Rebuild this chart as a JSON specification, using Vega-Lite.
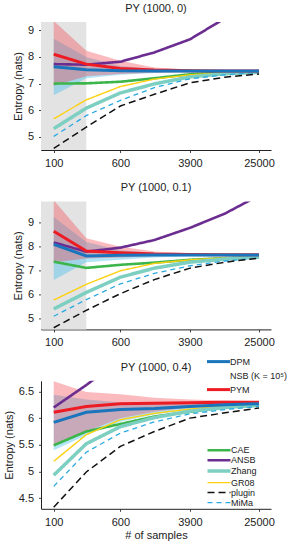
{
"$schema": "https://vega.github.io/schema/vega-lite/v6.json",
"padding": {"left": 3, "top": 3, "right": 0, "bottom": 0},
"spacing": 51.4,
"bounds": "flush",
"background": "white",
"datasets": {
"shade": [{"a": 71, "b": 240}],
"lines": [
{"p":1,"m":"PYM","n":100,"v":8.1},{"p":1,"m":"PYM","n":240,"v":7.73},{"p":1,"m":"PYM","n":600,"v":7.57},{"p":1,"m":"PYM","n":1500,"v":7.51},{"p":1,"m":"PYM","n":3900,"v":7.48},{"p":1,"m":"PYM","n":10000,"v":7.47},{"p":1,"m":"PYM","n":25000,"v":7.47},
{"p":1,"m":"ANSB","n":100,"v":7.73},{"p":1,"m":"ANSB","n":240,"v":7.71},{"p":1,"m":"ANSB","n":600,"v":7.82},{"p":1,"m":"ANSB","n":1500,"v":8.17},{"p":1,"m":"ANSB","n":3900,"v":8.66},{"p":1,"m":"ANSB","n":10000,"v":9.45},
{"p":1,"m":"DPM","n":100,"v":7.63},{"p":1,"m":"DPM","n":240,"v":7.52},{"p":1,"m":"DPM","n":600,"v":7.48},{"p":1,"m":"DPM","n":1500,"v":7.47},{"p":1,"m":"DPM","n":3900,"v":7.47},{"p":1,"m":"DPM","n":10000,"v":7.47},{"p":1,"m":"DPM","n":25000,"v":7.47},
{"p":1,"m":"CAE","n":100,"v":7.0},{"p":1,"m":"CAE","n":240,"v":7.01},{"p":1,"m":"CAE","n":600,"v":7.07},{"p":1,"m":"CAE","n":1500,"v":7.2},{"p":1,"m":"CAE","n":3900,"v":7.35},{"p":1,"m":"CAE","n":10000,"v":7.42},{"p":1,"m":"CAE","n":25000,"v":7.45},
{"p":1,"m":"GR08","n":100,"v":5.68},{"p":1,"m":"GR08","n":240,"v":6.39},{"p":1,"m":"GR08","n":600,"v":6.89},{"p":1,"m":"GR08","n":1500,"v":7.17},{"p":1,"m":"GR08","n":3900,"v":7.33},{"p":1,"m":"GR08","n":10000,"v":7.4},{"p":1,"m":"GR08","n":25000,"v":7.43},
{"p":1,"m":"Zhang","n":100,"v":5.31},{"p":1,"m":"Zhang","n":240,"v":6.08},{"p":1,"m":"Zhang","n":600,"v":6.65},{"p":1,"m":"Zhang","n":1500,"v":6.99},{"p":1,"m":"Zhang","n":3900,"v":7.25},{"p":1,"m":"Zhang","n":10000,"v":7.37},{"p":1,"m":"Zhang","n":25000,"v":7.42},
{"p":1,"m":"MiMa","n":100,"v":5.02},{"p":1,"m":"MiMa","n":240,"v":5.8},{"p":1,"m":"MiMa","n":600,"v":6.37},{"p":1,"m":"MiMa","n":1500,"v":6.85},{"p":1,"m":"MiMa","n":3900,"v":7.18},{"p":1,"m":"MiMa","n":10000,"v":7.33},{"p":1,"m":"MiMa","n":25000,"v":7.42},
{"p":1,"m":"plugin","n":100,"v":4.57},{"p":1,"m":"plugin","n":240,"v":5.37},{"p":1,"m":"plugin","n":600,"v":6.16},{"p":1,"m":"plugin","n":1500,"v":6.6},{"p":1,"m":"plugin","n":3900,"v":7.03},{"p":1,"m":"plugin","n":10000,"v":7.24},{"p":1,"m":"plugin","n":25000,"v":7.36},
{"p":2,"m":"PYM","n":100,"v":8.65},{"p":2,"m":"PYM","n":240,"v":7.82},{"p":2,"m":"PYM","n":600,"v":7.75},{"p":2,"m":"PYM","n":1500,"v":7.69},{"p":2,"m":"PYM","n":3900,"v":7.67},{"p":2,"m":"PYM","n":10000,"v":7.66},{"p":2,"m":"PYM","n":25000,"v":7.66},
{"p":2,"m":"ANSB","n":100,"v":8.18},{"p":2,"m":"ANSB","n":240,"v":7.79},{"p":2,"m":"ANSB","n":600,"v":7.96},{"p":2,"m":"ANSB","n":1500,"v":8.28},{"p":2,"m":"ANSB","n":3900,"v":8.79},{"p":2,"m":"ANSB","n":10000,"v":9.39},{"p":2,"m":"ANSB","n":25000,"v":10.15},
{"p":2,"m":"DPM","n":100,"v":8.1},{"p":2,"m":"DPM","n":240,"v":7.61},{"p":2,"m":"DPM","n":600,"v":7.64},{"p":2,"m":"DPM","n":1500,"v":7.65},{"p":2,"m":"DPM","n":3900,"v":7.65},{"p":2,"m":"DPM","n":10000,"v":7.65},{"p":2,"m":"DPM","n":25000,"v":7.65},
{"p":2,"m":"CAE","n":100,"v":7.37},{"p":2,"m":"CAE","n":240,"v":7.11},{"p":2,"m":"CAE","n":600,"v":7.24},{"p":2,"m":"CAE","n":1500,"v":7.33},{"p":2,"m":"CAE","n":3900,"v":7.45},{"p":2,"m":"CAE","n":10000,"v":7.52},{"p":2,"m":"CAE","n":25000,"v":7.57},
{"p":2,"m":"GR08","n":100,"v":5.76},{"p":2,"m":"GR08","n":240,"v":6.42},{"p":2,"m":"GR08","n":600,"v":6.99},{"p":2,"m":"GR08","n":1500,"v":7.3},{"p":2,"m":"GR08","n":3900,"v":7.45},{"p":2,"m":"GR08","n":10000,"v":7.53},{"p":2,"m":"GR08","n":25000,"v":7.58},
{"p":2,"m":"Zhang","n":100,"v":5.39},{"p":2,"m":"Zhang","n":240,"v":6.08},{"p":2,"m":"Zhang","n":600,"v":6.72},{"p":2,"m":"Zhang","n":1500,"v":7.1},{"p":2,"m":"Zhang","n":3900,"v":7.35},{"p":2,"m":"Zhang","n":10000,"v":7.48},{"p":2,"m":"Zhang","n":25000,"v":7.56},
{"p":2,"m":"MiMa","n":100,"v":5.08},{"p":2,"m":"MiMa","n":240,"v":5.78},{"p":2,"m":"MiMa","n":600,"v":6.44},{"p":2,"m":"MiMa","n":1500,"v":6.88},{"p":2,"m":"MiMa","n":3900,"v":7.2},{"p":2,"m":"MiMa","n":10000,"v":7.4},{"p":2,"m":"MiMa","n":25000,"v":7.53},
{"p":2,"m":"plugin","n":100,"v":4.6},{"p":2,"m":"plugin","n":240,"v":5.33},{"p":2,"m":"plugin","n":600,"v":6.03},{"p":2,"m":"plugin","n":1500,"v":6.62},{"p":2,"m":"plugin","n":3900,"v":7.1},{"p":2,"m":"plugin","n":10000,"v":7.35},{"p":2,"m":"plugin","n":25000,"v":7.52},
{"p":3,"m":"PYM","n":100,"v":6.11},{"p":3,"m":"PYM","n":240,"v":6.22},{"p":3,"m":"PYM","n":600,"v":6.27},{"p":3,"m":"PYM","n":1500,"v":6.28},{"p":3,"m":"PYM","n":3900,"v":6.29},{"p":3,"m":"PYM","n":10000,"v":6.3},{"p":3,"m":"PYM","n":25000,"v":6.3},
{"p":3,"m":"ANSB","n":100,"v":6.2},{"p":3,"m":"ANSB","n":240,"v":6.62},{"p":3,"m":"ANSB","n":600,"v":7.1},
{"p":3,"m":"DPM","n":100,"v":5.92},{"p":3,"m":"DPM","n":240,"v":6.11},{"p":3,"m":"DPM","n":600,"v":6.16},{"p":3,"m":"DPM","n":1500,"v":6.18},{"p":3,"m":"DPM","n":3900,"v":6.22},{"p":3,"m":"DPM","n":10000,"v":6.25},{"p":3,"m":"DPM","n":25000,"v":6.27},
{"p":3,"m":"CAE","n":100,"v":5.49},{"p":3,"m":"CAE","n":240,"v":5.75},{"p":3,"m":"CAE","n":600,"v":5.89},{"p":3,"m":"CAE","n":1500,"v":6.03},{"p":3,"m":"CAE","n":3900,"v":6.12},{"p":3,"m":"CAE","n":10000,"v":6.2},{"p":3,"m":"CAE","n":25000,"v":6.25},
{"p":3,"m":"GR08","n":100,"v":5.19},{"p":3,"m":"GR08","n":240,"v":5.69},{"p":3,"m":"GR08","n":600,"v":5.97},{"p":3,"m":"GR08","n":1500,"v":6.09},{"p":3,"m":"GR08","n":3900,"v":6.17},{"p":3,"m":"GR08","n":10000,"v":6.23},{"p":3,"m":"GR08","n":25000,"v":6.27},
{"p":3,"m":"Zhang","n":100,"v":4.93},{"p":3,"m":"Zhang","n":240,"v":5.52},{"p":3,"m":"Zhang","n":600,"v":5.84},{"p":3,"m":"Zhang","n":1500,"v":6.01},{"p":3,"m":"Zhang","n":3900,"v":6.13},{"p":3,"m":"Zhang","n":10000,"v":6.2},{"p":3,"m":"Zhang","n":25000,"v":6.24},
{"p":3,"m":"MiMa","n":100,"v":4.72},{"p":3,"m":"MiMa","n":240,"v":5.36},{"p":3,"m":"MiMa","n":600,"v":5.72},{"p":3,"m":"MiMa","n":1500,"v":5.93},{"p":3,"m":"MiMa","n":3900,"v":6.08},{"p":3,"m":"MiMa","n":10000,"v":6.16},{"p":3,"m":"MiMa","n":25000,"v":6.22},
{"p":3,"m":"plugin","n":100,"v":4.33},{"p":3,"m":"plugin","n":240,"v":4.99},{"p":3,"m":"plugin","n":600,"v":5.47},{"p":3,"m":"plugin","n":1500,"v":5.75},{"p":3,"m":"plugin","n":3900,"v":6.0},{"p":3,"m":"plugin","n":10000,"v":6.1},{"p":3,"m":"plugin","n":25000,"v":6.19}
],
"bands": [
{"p":1,"m":"DPM","n":100,"lo":6.56,"hi":8.68},{"p":1,"m":"DPM","n":240,"lo":7.2,"hi":8.0},{"p":1,"m":"DPM","n":600,"lo":7.33,"hi":7.66},{"p":1,"m":"DPM","n":1500,"lo":7.4,"hi":7.55},{"p":1,"m":"DPM","n":3900,"lo":7.43,"hi":7.51},{"p":1,"m":"DPM","n":10000,"lo":7.45,"hi":7.49},{"p":1,"m":"DPM","n":25000,"lo":7.45,"hi":7.48},
{"p":1,"m":"PYM","n":100,"lo":6.92,"hi":9.35},{"p":1,"m":"PYM","n":240,"lo":7.28,"hi":8.23},{"p":1,"m":"PYM","n":600,"lo":7.36,"hi":7.86},{"p":1,"m":"PYM","n":1500,"lo":7.41,"hi":7.6},{"p":1,"m":"PYM","n":3900,"lo":7.43,"hi":7.53},{"p":1,"m":"PYM","n":10000,"lo":7.44,"hi":7.5},{"p":1,"m":"PYM","n":25000,"lo":7.45,"hi":7.49},
{"p":2,"m":"DPM","n":100,"lo":6.6,"hi":9.25},{"p":2,"m":"DPM","n":240,"lo":7.35,"hi":8.2},{"p":2,"m":"DPM","n":600,"lo":7.45,"hi":7.85},{"p":2,"m":"DPM","n":1500,"lo":7.55,"hi":7.75},{"p":2,"m":"DPM","n":3900,"lo":7.6,"hi":7.7},{"p":2,"m":"DPM","n":10000,"lo":7.62,"hi":7.68},{"p":2,"m":"DPM","n":25000,"lo":7.63,"hi":7.67},
{"p":2,"m":"PYM","n":100,"lo":7.35,"hi":9.95},{"p":2,"m":"PYM","n":240,"lo":7.5,"hi":8.35},{"p":2,"m":"PYM","n":600,"lo":7.55,"hi":8.0},{"p":2,"m":"PYM","n":1500,"lo":7.6,"hi":7.8},{"p":2,"m":"PYM","n":3900,"lo":7.62,"hi":7.72},{"p":2,"m":"PYM","n":10000,"lo":7.63,"hi":7.7},{"p":2,"m":"PYM","n":25000,"lo":7.64,"hi":7.69},
{"p":3,"m":"DPM","n":100,"lo":5.4,"hi":6.44},{"p":3,"m":"DPM","n":240,"lo":5.68,"hi":6.35},{"p":3,"m":"DPM","n":600,"lo":5.93,"hi":6.3},{"p":3,"m":"DPM","n":1500,"lo":6.07,"hi":6.28},{"p":3,"m":"DPM","n":3900,"lo":6.15,"hi":6.29},{"p":3,"m":"DPM","n":10000,"lo":6.2,"hi":6.29},{"p":3,"m":"DPM","n":25000,"lo":6.22,"hi":6.3},
{"p":3,"m":"PYM","n":100,"lo":5.49,"hi":6.69},{"p":3,"m":"PYM","n":240,"lo":5.75,"hi":6.49},{"p":3,"m":"PYM","n":600,"lo":6.0,"hi":6.45},{"p":3,"m":"PYM","n":1500,"lo":6.12,"hi":6.38},{"p":3,"m":"PYM","n":3900,"lo":6.2,"hi":6.35},{"p":3,"m":"PYM","n":10000,"lo":6.24,"hi":6.33},{"p":3,"m":"PYM","n":25000,"lo":6.26,"hi":6.32}
]
},
"config": {
"font": "Liberation Sans",
"view": {"stroke": null},
"axis": {"grid": false, "domainColor": "#222222", "tickColor": "#444444", "labelColor": "#222222", "titleColor": "#222222", "labelFontSize": 11, "titleFontSize": 11, "titleFontWeight": "normal", "tickSize": 2.5, "labelPadding": 5, "titlePadding": 4, "labelOverlap": false},
"title": {"fontSize": 11, "fontWeight": "normal", "color": "#222222", "offset": 8, "baseline": "alphabetic"},
"legend": {"labelFontSize": 9, "labelColor": "#222222", "padding": 0, "offset": 0, "symbolType": "M-3.83,0H3.83", "symbolSize": 36, "labelOffset": 7, "rowPadding": -1.7, "title": null}
},
"resolve": {
"scale": {"y": "independent", "color": "independent", "stroke": "independent", "strokeDash": "independent", "strokeWidth": "independent"},
"legend": {"color": "independent", "stroke": "independent", "strokeDash": "independent", "strokeWidth": "independent"}
},
"vconcat": [
{
"width": 230, "height": 128,
"title": "PY (1000, 0)",
"layer": [
{"data": {"name": "shade"}, "mark": {"type": "rect", "color": "#e3e3e3"},
 "encoding": {"x": {"field": "a", "type": "quantitative", "scale": {"type": "log", "domain": [71, 34500], "nice": false},
   "axis": {"values": [100, 600, 3900, 25000], "tickCount": 10, "format": "d", "title": null, "labelOverlap": false}}, "x2": {"field": "b"}}},
{"data": {"name": "bands"}, "transform": [{"filter": "datum.p == 1 && datum.m == 'DPM'"}], "mark": {"type": "area", "color": "#3fbdec", "opacity": 0.4, "clip": true},
 "encoding": {"x": {"field": "n", "type": "quantitative"}, "y": {"field": "lo", "type": "quantitative", "scale": {"domain": [4.51, 9.31], "nice": false, "zero": false}, "axis": {"values": [5, 6, 7, 8, 9], "tickCount": 10, "format": "~g", "title": "Entropy (nats)", "labelOverlap": false}}, "y2": {"field": "hi"}}},
{"data": {"name": "bands"}, "transform": [{"filter": "datum.p == 1 && datum.m == 'PYM'"}], "mark": {"type": "area", "color": "#f03a45", "opacity": 0.35, "clip": true},
 "encoding": {"x": {"field": "n", "type": "quantitative"}, "y": {"field": "lo", "type": "quantitative"}, "y2": {"field": "hi"}}},
{"data": {"name": "lines"}, "transform": [{"filter": "datum.p == 1 && datum.m != 'DPM' && datum.m != 'PYM'"}], "mark": {"type": "line", "clip": true},
 "encoding": {"x": {"field": "n", "type": "quantitative"}, "y": {"field": "v", "type": "quantitative"},
  "stroke": {"field": "m", "type": "nominal", "scale": {"domain": ["CAE", "ANSB", "Zhang", "GR08", "plugin", "MiMa"], "range": ["#3cb54a", "#6b2d90", "#7dcfc1", "#fdd10f", "#111111", "#29aae1"]}, "legend": null},
  "strokeDash": {"field": "m", "type": "nominal", "scale": {"domain": ["CAE", "ANSB", "Zhang", "GR08", "plugin", "MiMa"], "range": [[1, 0], [1, 0], [1, 0], [1, 0], [7, 4], [5, 4]]}, "legend": null},
  "strokeWidth": {"field": "m", "type": "nominal", "scale": {"type": "ordinal", "domain": ["CAE", "ANSB", "Zhang", "GR08", "plugin", "MiMa"], "range": [2.6, 2.6, 3.5, 1.4, 1.5, 1.3]}, "legend": null}}},
{"data": {"name": "lines"}, "transform": [{"filter": "datum.p == 1 && (datum.m == 'DPM' || datum.m == 'PYM')"}], "mark": {"type": "line", "clip": true, "strokeWidth": 3},
 "encoding": {"x": {"field": "n", "type": "quantitative"}, "y": {"field": "v", "type": "quantitative"},
  "color": {"field": "m", "type": "nominal", "scale": {"domain": ["DPM", "NSB (K = 10⁵)", "PYM"], "range": ["#1b75bc", "rgba(0,0,0,0)", "#ed1c24"]}, "legend": null}}}
]
},
{
"width": 230, "height": 128,
"title": "PY (1000, 0.1)",
"layer": [
{"data": {"name": "shade"}, "mark": {"type": "rect", "color": "#e3e3e3"},
 "encoding": {"x": {"field": "a", "type": "quantitative", "scale": {"type": "log", "domain": [71, 34500], "nice": false},
   "axis": {"values": [100, 600, 3900, 25000], "tickCount": 10, "format": "d", "title": null, "labelOverlap": false}}, "x2": {"field": "b"}}},
{"data": {"name": "bands"}, "transform": [{"filter": "datum.p == 2 && datum.m == 'DPM'"}], "mark": {"type": "area", "color": "#3fbdec", "opacity": 0.4, "clip": true},
 "encoding": {"x": {"field": "n", "type": "quantitative"}, "y": {"field": "lo", "type": "quantitative", "scale": {"domain": [4.53, 9.9], "nice": false, "zero": false}, "axis": {"values": [5, 6, 7, 8, 9], "tickCount": 10, "format": "~g", "title": "Entropy (nats)", "labelOverlap": false}}, "y2": {"field": "hi"}}},
{"data": {"name": "bands"}, "transform": [{"filter": "datum.p == 2 && datum.m == 'PYM'"}], "mark": {"type": "area", "color": "#f03a45", "opacity": 0.35, "clip": true},
 "encoding": {"x": {"field": "n", "type": "quantitative"}, "y": {"field": "lo", "type": "quantitative"}, "y2": {"field": "hi"}}},
{"data": {"name": "lines"}, "transform": [{"filter": "datum.p == 2 && datum.m != 'DPM' && datum.m != 'PYM'"}], "mark": {"type": "line", "clip": true},
 "encoding": {"x": {"field": "n", "type": "quantitative"}, "y": {"field": "v", "type": "quantitative"},
  "stroke": {"field": "m", "type": "nominal", "scale": {"domain": ["CAE", "ANSB", "Zhang", "GR08", "plugin", "MiMa"], "range": ["#3cb54a", "#6b2d90", "#7dcfc1", "#fdd10f", "#111111", "#29aae1"]}, "legend": null},
  "strokeDash": {"field": "m", "type": "nominal", "scale": {"domain": ["CAE", "ANSB", "Zhang", "GR08", "plugin", "MiMa"], "range": [[1, 0], [1, 0], [1, 0], [1, 0], [7, 4], [5, 4]]}, "legend": null},
  "strokeWidth": {"field": "m", "type": "nominal", "scale": {"type": "ordinal", "domain": ["CAE", "ANSB", "Zhang", "GR08", "plugin", "MiMa"], "range": [2.6, 2.6, 3.5, 1.4, 1.5, 1.3]}, "legend": null}}},
{"data": {"name": "lines"}, "transform": [{"filter": "datum.p == 2 && (datum.m == 'DPM' || datum.m == 'PYM')"}], "mark": {"type": "line", "clip": true, "strokeWidth": 3},
 "encoding": {"x": {"field": "n", "type": "quantitative"}, "y": {"field": "v", "type": "quantitative"},
  "color": {"field": "m", "type": "nominal", "scale": {"domain": ["DPM", "NSB (K = 10⁵)", "PYM"], "range": ["#1b75bc", "rgba(0,0,0,0)", "#ed1c24"]}, "legend": {"orient": "none", "legendX": 173, "legendY": 155.7, "symbolStrokeWidth": 3, "rowPadding": 1}}}}
]
},
{
"width": 230, "height": 128,
"title": "PY (1000, 0.4)",
"layer": [
{"data": {"name": "shade"}, "mark": {"type": "rect", "color": "#ffffff", "opacity": 0},
 "encoding": {"x": {"field": "a", "type": "quantitative", "scale": {"type": "log", "domain": [71, 34500], "nice": false},
   "axis": {"values": [100, 600, 3900, 25000], "tickCount": 10, "format": "d", "title": "# of samples", "titlePadding": 2, "labelOverlap": false}}, "x2": {"field": "b"}}},
{"data": {"name": "bands"}, "transform": [{"filter": "datum.p == 3 && datum.m == 'DPM'"}], "mark": {"type": "area", "color": "#3fbdec", "opacity": 0.4, "clip": true},
 "encoding": {"x": {"field": "n", "type": "quantitative"}, "y": {"field": "lo", "type": "quantitative", "scale": {"domain": [4.3, 6.7], "nice": false, "zero": false}, "axis": {"values": [4.5, 5, 5.5, 6, 6.5], "tickCount": 10, "format": "~g", "title": "Entropy (nats)", "labelOverlap": false}}, "y2": {"field": "hi"}}},
{"data": {"name": "bands"}, "transform": [{"filter": "datum.p == 3 && datum.m == 'PYM'"}], "mark": {"type": "area", "color": "#f03a45", "opacity": 0.35, "clip": true},
 "encoding": {"x": {"field": "n", "type": "quantitative"}, "y": {"field": "lo", "type": "quantitative"}, "y2": {"field": "hi"}}},
{"data": {"name": "lines"}, "transform": [{"filter": "datum.p == 3 && datum.m != 'DPM' && datum.m != 'PYM'"}], "mark": {"type": "line", "clip": true},
 "encoding": {"x": {"field": "n", "type": "quantitative"}, "y": {"field": "v", "type": "quantitative"},
  "stroke": {"field": "m", "type": "nominal", "scale": {"domain": ["CAE", "ANSB", "Zhang", "GR08", "plugin", "MiMa"], "range": ["#3cb54a", "#6b2d90", "#7dcfc1", "#fdd10f", "#111111", "#29aae1"]}, "legend": {"orient": "none", "legendX": 173, "legendY": 65, "rowPadding": -1.7}},
  "strokeDash": {"field": "m", "type": "nominal", "scale": {"domain": ["CAE", "ANSB", "Zhang", "GR08", "plugin", "MiMa"], "range": [[1, 0], [1, 0], [1, 0], [1, 0], [7, 4], [5, 4]]}, "legend": {"orient": "none", "legendX": 173, "legendY": 65, "rowPadding": -1.7}},
  "strokeWidth": {"field": "m", "type": "nominal", "scale": {"type": "ordinal", "domain": ["CAE", "ANSB", "Zhang", "GR08", "plugin", "MiMa"], "range": [2.6, 2.6, 3.5, 1.4, 1.5, 1.3]}, "legend": {"orient": "none", "legendX": 173, "legendY": 65, "rowPadding": -1.7}}}},
{"data": {"name": "lines"}, "transform": [{"filter": "datum.p == 3 && (datum.m == 'DPM' || datum.m == 'PYM')"}], "mark": {"type": "line", "clip": true, "strokeWidth": 3},
 "encoding": {"x": {"field": "n", "type": "quantitative"}, "y": {"field": "v", "type": "quantitative"},
  "color": {"field": "m", "type": "nominal", "scale": {"domain": ["DPM", "NSB (K = 10⁵)", "PYM"], "range": ["#1b75bc", "rgba(0,0,0,0)", "#ed1c24"]}, "legend": null}}}
]
}
]
}
